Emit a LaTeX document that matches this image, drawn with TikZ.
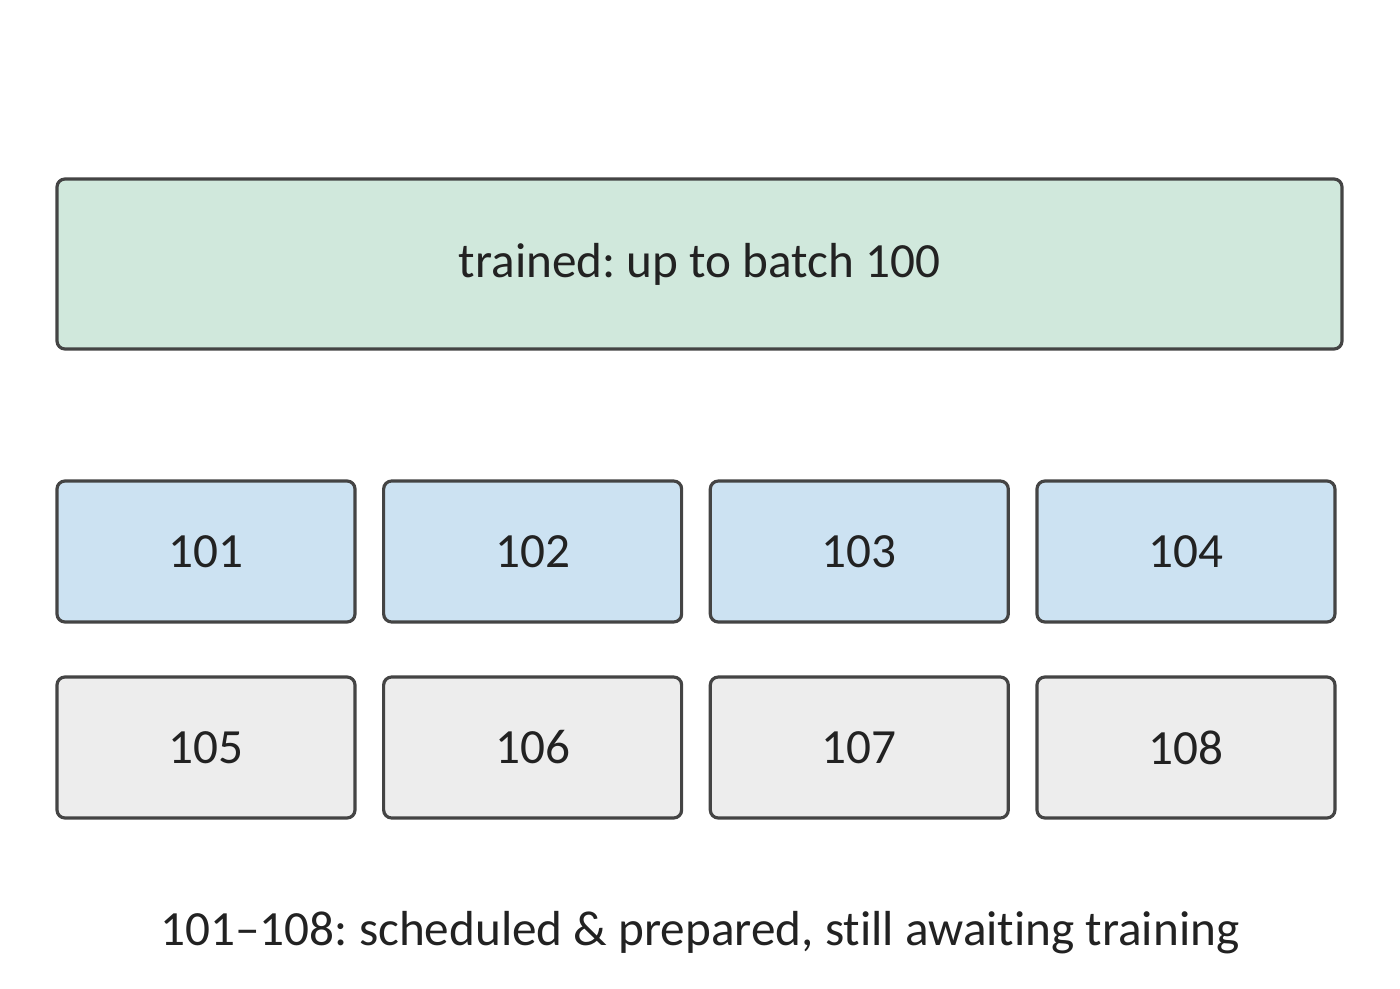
\documentclass[tikz,border=0pt]{standalone}
\usepackage{fontspec}
\setmainfont[Ligatures=NoCommon]{Carlito}
\frenchspacing
\usepackage{tikz}
\usetikzlibrary{positioning}
\definecolor{vien}{HTML}{444444}
\definecolor{chu}{HTML}{222222}
\definecolor{xanhla}{HTML}{D0E8DC}
\definecolor{xanhduong}{HTML}{CCE2F2}
\definecolor{xam}{HTML}{EDEDED}
\tikzset{hop/.style={draw=vien,line width=1.8pt,rounded corners=0.16cm,text=chu,
        font=\fontsize{28}{34}\selectfont,minimum width=5.96cm,minimum height=2.82cm,inner sep=0pt}}
\begin{document}
\begin{tikzpicture}
    \useasboundingbox (0,0) rectangle (28,19.76);
    \def\w{6.533} \def\ya{8.73} \def\yb{4.81}
    \node[hop,fill=xanhla,minimum width=25.7cm,minimum height=3.4cm] (tr) at (13.99,14.48) {trained: up to batch 100};% khối đã huấn luyện
    \foreach \i/\lab in {0/101,1/102,2/103,3/104}{
            \node[hop,fill=xanhduong] (b\lab) at (4.12+\i*\w,\ya) {\lab};}
    \foreach \i/\lab in {0/105,1/106,2/107,3/108}{
            \node[hop,fill=xam] (b\lab) at (4.12+\i*\w,\yb) {\lab};}
    \node[text=chu,font=\fontsize{28}{34}\selectfont,anchor=base] (ghichu) at (14,0.86) {101–108: scheduled \& prepared, still awaiting training};
\end{tikzpicture}
\end{document}
